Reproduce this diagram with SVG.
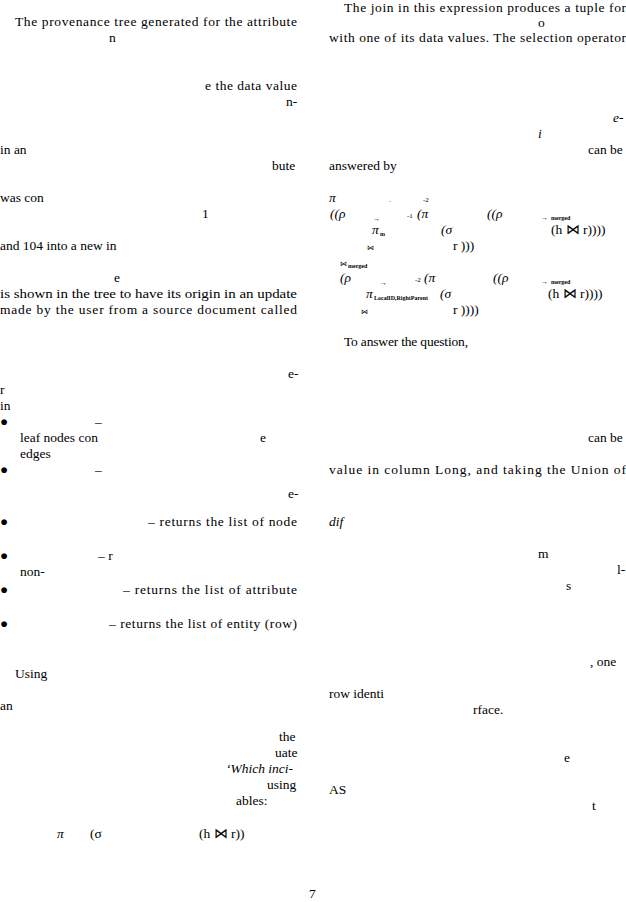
<svg xmlns="http://www.w3.org/2000/svg" width="626" height="902" viewBox="0 0 626 902">
<style>
text{font-family:"Liberation Serif","Times New Roman",serif;font-size:13.5px;fill:#000}
.i{font-style:italic}
.s{font-size:7px}
.ss{font-size:6px;font-weight:bold}
</style>
<rect width="626" height="902" fill="#fff"/>
<g id="left">
<text x="15" y="26" textLength="282" lengthAdjust="spacing">The provenance tree generated for the attribute</text>
<text x="109" y="42">n</text>
<text x="205" y="90" textLength="92" lengthAdjust="spacing">e the data value</text>
<text x="286" y="106">n-</text>
<text x="0" y="154">in an</text>
<text x="272" y="170">bute</text>
<text x="0" y="202">was con</text>
<text x="202" y="218">1</text>
<text x="0" y="250">and 104 into a new in</text>
<text x="114" y="282">e</text>
<text x="0" y="298" textLength="297" lengthAdjust="spacingAndGlyphs">is shown in the tree to have its origin in an update</text>
<text x="0" y="314" textLength="297" lengthAdjust="spacing">made by the user from a source document called</text>
<text x="288" y="378">e-</text>
<text x="0" y="394">r</text>
<text x="0" y="410">in</text>
<text x="0" y="426">●</text><text x="95" y="426">–</text>
<text x="20" y="442">leaf nodes con</text>
<text x="260" y="442">e</text>
<text x="20" y="458">edges</text>
<text x="0" y="474">●</text><text x="95" y="474">–</text>
<text x="288" y="498">e-</text>
<text x="0" y="526">●</text>
<text x="148" y="526" textLength="149" lengthAdjust="spacing">– returns the list of node</text>
<text x="0" y="560">●</text><text x="98" y="560">– r</text>
<text x="20" y="576">non-</text>
<text x="0" y="594">●</text>
<text x="123" y="594" textLength="174" lengthAdjust="spacing">– returns the list of attribute</text>
<text x="0" y="628">●</text>
<text x="109" y="628" textLength="188" lengthAdjust="spacing">– returns the list of entity (row)</text>
<text x="15" y="678">Using</text>
<text x="0" y="710">an</text>
<text x="279" y="741">the</text>
<text x="275" y="757">uate</text>
<text x="226" y="773" class="i">‘Which inci-</text>
<text x="267" y="789">using</text>
<text x="236" y="805">ables:</text>
<text x="57" y="838" class="i">π</text>
<text x="90" y="838">(σ</text>
<text x="199" y="838">(h ⋈ r))</text>
<text x="309" y="898">7</text>
</g>
<g id="right">
<text x="344" y="12" textLength="282" lengthAdjust="spacing">The join in this expression produces a tuple for</text>
<text x="538" y="27">o</text>
<text x="329" y="42" textLength="297" lengthAdjust="spacing">with one of its data values. The selection operator</text>
<text x="613" y="122" class="i">e-</text>
<text x="538" y="138" class="i">i</text>
<text x="588" y="154">can be</text>
<text x="329" y="170">answered by</text>
<text x="329" y="202" class="i">π</text>
<text x="389" y="202" class="s">.</text>
<text x="423" y="202" class="s">-2</text>
<text x="330" y="218" class="i">((ρ</text>
<text x="373" y="221" class="s">→</text>
<text x="407" y="218" class="s">-1</text><text x="417" y="218" class="i">(π</text>
<text x="487" y="218" class="i">((ρ</text>
<text x="541" y="220" class="s">→</text><text x="551" y="220" class="ss">merged</text>
<text x="372" y="234" class="i">π</text><text x="380" y="236" class="ss">m</text>
<text x="441" y="234" class="i">(σ</text>
<text x="551" y="234">(h ⋈ r))))</text>
<text x="367" y="250" class="s">⋈</text>
<text x="453" y="250">r )))</text>
<text x="340" y="266" class="s">⋈</text><text x="348" y="268" class="ss">merged</text>
<text x="340" y="282" class="i">(ρ</text>
<text x="380" y="285" class="s">→</text>
<text x="415" y="282" class="s">-2</text><text x="424" y="282" class="i">(π</text>
<text x="493" y="282" class="i">((ρ</text>
<text x="541" y="284" class="s">→</text><text x="551" y="284" class="ss">merged</text>
<text x="366" y="298" class="i">π</text><text x="374" y="300" class="ss">LocalID,RightParent</text><text x="440" y="298" class="i">(σ</text>
<text x="548" y="298">(h ⋈ r))))</text>
<text x="361" y="314" class="s">⋈</text>
<text x="453" y="314">r ))))</text>
<text x="344" y="346" textLength="124" lengthAdjust="spacing">To answer the question,</text>
<text x="588" y="442">can be</text>
<text x="329" y="474" textLength="297" lengthAdjust="spacing">value in column Long, and taking the Union of</text>
<text x="329" y="526" class="i">dif</text>
<text x="538" y="558">m</text>
<text x="617" y="574">l-</text>
<text x="566" y="590">s</text>
<text x="590" y="666">, one</text>
<text x="329" y="698">row identi</text>
<text x="473" y="714">rface.</text>
<text x="564" y="762">e</text>
<text x="329" y="794">AS</text>
<text x="592" y="810">t</text>
</g>
</svg>
